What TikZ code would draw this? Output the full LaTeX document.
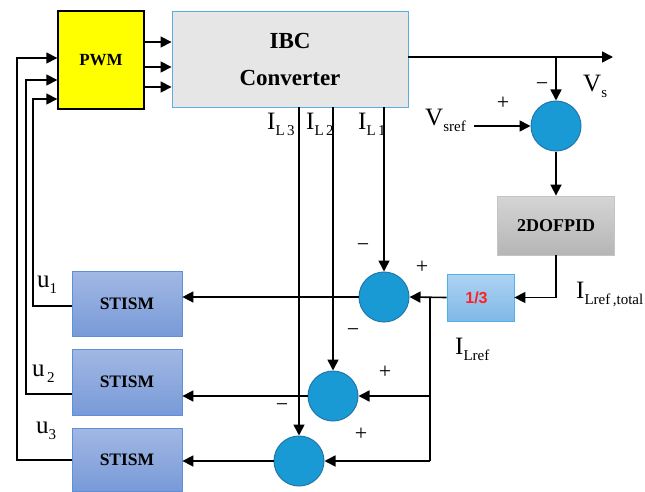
\documentclass[tikz,border=0pt]{standalone}
\usepackage{fontspec}
\setmainfont{Liberation Serif}
\newfontfamily\sansbold{Liberation Sans}
\usetikzlibrary{arrows.meta,calc}
\definecolor{pwmyellow}{HTML}{FFFF00}
\definecolor{ibcfill}{HTML}{E6E6E6}
\definecolor{ibcborder}{HTML}{5AAFDF}
\definecolor{sttop}{HTML}{A2B8E4}
\definecolor{stbot}{HTML}{789AD8}
\definecolor{stborder}{HTML}{5E8FD8}
\definecolor{pidtop}{HTML}{D5D5D5}
\definecolor{pidbot}{HTML}{B5B5B5}
\definecolor{pidborder}{HTML}{C4C4C4}
\definecolor{thtop}{HTML}{AED3F2}
\definecolor{thbot}{HTML}{80B8E8}
\definecolor{thborder}{HTML}{4FB2EA}
\definecolor{sumfill}{HTML}{1A9AD5}
\definecolor{sumborder}{HTML}{2277AA}
\definecolor{redtxt}{HTML}{FF2020}
\newcommand\mylbl[2]{{\fontsize{25}{25}\selectfont #1}\raisebox{-6pt}{\fontsize{15}{15}\selectfont #2}}
\tikzset{
  wire/.style={line width=1.6pt, line join=miter},
  arr/.style={wire, -{Triangle[length=11pt,width=11pt]}},
  sumnode/.style={circle, minimum size=50pt, inner sep=0pt, fill=sumfill, draw=sumborder, line width=1pt},
  stbox/.style={rectangle, minimum width=110pt, inner sep=0pt, top color=sttop, bottom color=stbot, draw=stborder, line width=0.8pt, font=\fontsize{17.5}{18}\selectfont\bfseries},
  sign/.style={font=\fontsize{22}{22}\selectfont, inner sep=0pt},
  lab/.style={inner sep=0pt, anchor=west}
}
\begin{document}
\begin{tikzpicture}[x=1pt,y=-1pt]
\useasboundingbox (0,0) rectangle (645,492);
% blocks
\node[rectangle, minimum width=86pt, minimum height=98pt, inner sep=0pt, fill=pwmyellow, draw=black, line width=1.4pt, font=\fontsize{17}{18}\selectfont\bfseries] (pwm) at (101,60) {PWM};
\node[rectangle, minimum width=236pt, minimum height=96pt, inner sep=0pt, fill=ibcfill, draw=ibcborder, line width=0.9pt, align=center, font=\fontsize{23}{37}\selectfont\bfseries] (ibc) at (290,59) {IBC\\Converter};
\node[stbox, minimum height=65pt] (st1) at (127,303.5) {STISM};
\node[stbox, minimum height=66pt] (st2) at (127,382) {STISM};
\node[stbox, minimum height=63pt] (st3) at (127,459.5) {STISM};
\node[rectangle, minimum width=117pt, minimum height=59pt, inner sep=0pt, top color=pidtop, bottom color=pidbot, draw=pidborder, line width=0.8pt, font=\fontsize{18}{18}\selectfont\bfseries] (pid) at (556,225.5) {2DOFPID};
\node[rectangle, minimum width=67pt, minimum height=47pt, inner sep=0pt, top color=thtop, bottom color=thbot, draw=thborder, line width=0.8pt, text=redtxt, font=\sansbold\fontsize{16}{16}\selectfont\bfseries] (third) at (480.5,297.5) {\hspace*{-8pt}\raisebox{-5pt}{1/3}};
% summing junctions
\node[sumnode] (sv) at (556,126) {};
\node[sumnode] (s1) at (384,297) {};
\node[sumnode] (s2) at (333,396) {};
\node[sumnode] (s3) at (299,461) {};
% PWM -> IBC
\foreach \yy in {42,67,87} {
  \coordinate (pa) at (pwm.east |- 0,\yy);
  \coordinate (pb) at (ibc.west |- 0,\yy);
  \draw[arr] (pa) -- (pb);
}
% feedback u1,u2,u3 into PWM
\coordinate (u1s) at (st1.west |- 0,306);
\coordinate (u1e) at (pwm.west |- 0,99);
\draw[arr] (u1s) -- (33,306) -- (33,99) -- (u1e);
\coordinate (u2s) at (st2.west |- 0,394);
\coordinate (u2e) at (pwm.west |- 0,80);
\draw[arr] (u2s) -- (26,394) -- (26,80) -- (u2e);
\coordinate (u3s) at (st3.west |- 0,460);
\coordinate (u3e) at (pwm.west |- 0,58);
\draw[arr] (u3s) -- (17,460) -- (17,58) -- (u3e);
% output
\coordinate (vo) at (ibc.east |- 0,57);
\coordinate (vend) at (613,57);
\coordinate (vbr) at (sv.north |- vo);
\draw[arr] (vo) -- (vend);
\draw[arr] (vbr) -- (sv.north);
\coordinate (vref) at (474,126);
\draw[arr] (vref) -- (sv.west);
\draw[arr] (sv.south) -- (pid.north);
\coordinate (pidc) at (pid.south |- third.east);
\draw[arr] (pid.south) -- (pidc) -- (third.east);
\draw[arr] (third.west) -- (s1.east);
\coordinate (br1) at (430,297);
\coordinate (br2) at (430,396);
\coordinate (br3) at (430,461);
\draw[wire] (br1) -- (br3);
\draw[arr] (br2) -- (s2.east);
\draw[arr] (br3) -- (s3.east);
% currents
\coordinate (il1) at (ibc.south -| s1.north);
\coordinate (il2) at (ibc.south -| s2.north);
\coordinate (il3) at (ibc.south -| s3.north);
\draw[arr] (il1) -- (s1.north);
\draw[arr] (il2) -- (s2.north);
\draw[arr] (il3) -- (s3.north);
% to STISM
\coordinate (t1) at (st1.east |- s1.west);
\coordinate (t2) at (st2.east |- s2.west);
\coordinate (t3) at (st3.east |- s3.west);
\draw[arr] (s1.west) -- (t1);
\draw[arr] (s2.west) -- (t2);
\draw[arr] (s3.west) -- (t3);
% labels
\node[lab] (lil3) at (267,124) {\mylbl{I}{L\,3}};
\node[lab] (lil2) at (306,124) {\mylbl{I}{L\,2}};
\node[lab] (lil1) at (358,124) {\mylbl{I}{L\,1}};
\node[lab] (lvs) at (583,86) {\mylbl{V}{s}};
\node[lab] (lvsref) at (425,120) {\mylbl{V}{sref}};
\node[lab] (lilt) at (576,294) {\mylbl{I}{Lref\,,total}};
\node[lab] (lilr) at (455,349) {\mylbl{I}{Lref}};
\node[lab] (lu1) at (37,285) {\mylbl{u}{1}};
\node[lab] (lu2) at (32,374) {\mylbl{u}{\,2}};
\node[lab] (lu3) at (36,431) {\mylbl{u}{3}};
% signs
\node[sign] at (542,87) {−};
\node[sign] at (503,103) {+};
\node[sign] at (363,248) {−};
\node[sign] at (422,267) {+};
\node[sign] at (353,333) {−};
\node[sign] at (385,372) {+};
\node[sign] at (282,408) {−};
\node[sign] at (361,434) {+};
\end{tikzpicture}
\end{document}
